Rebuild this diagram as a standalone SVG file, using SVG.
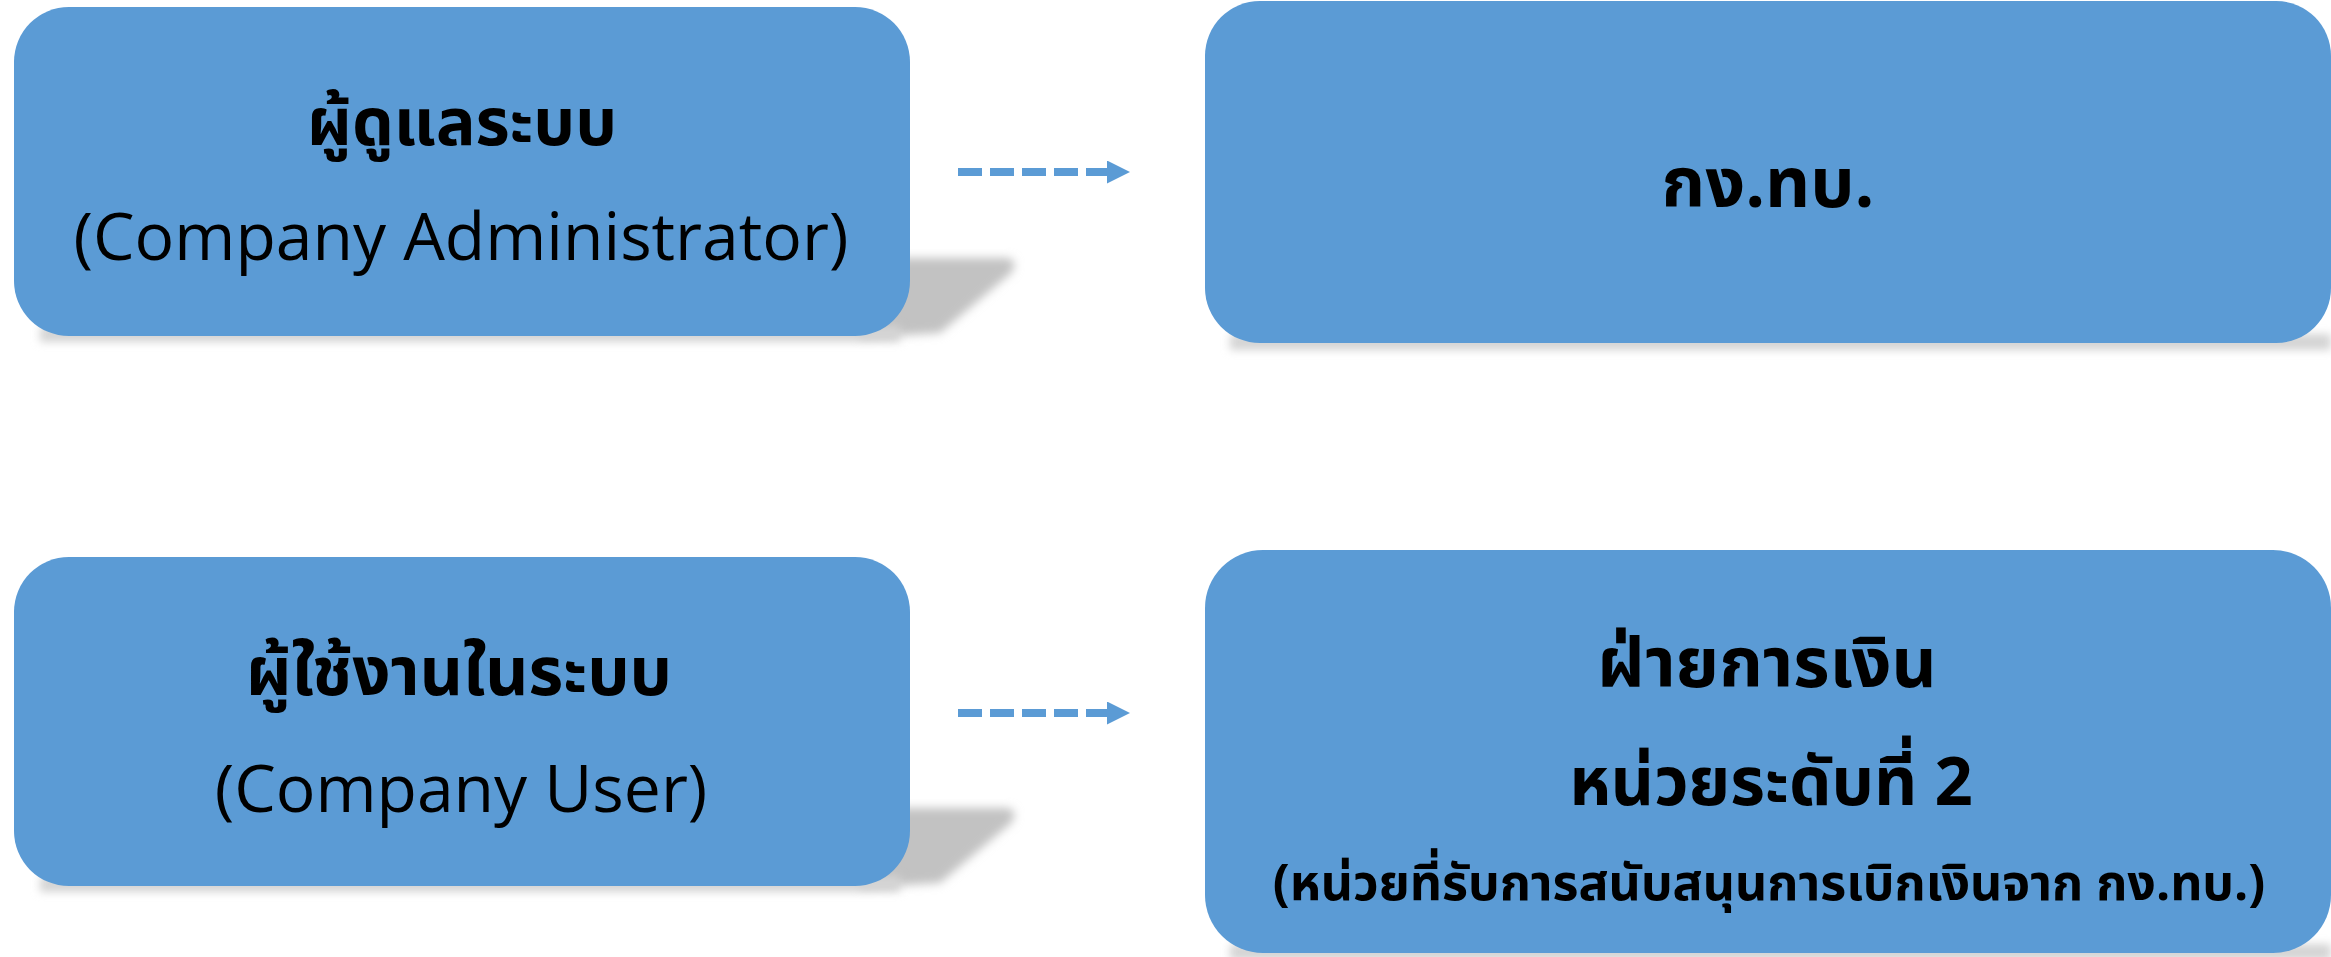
<svg xmlns="http://www.w3.org/2000/svg" width="2331" height="957" viewBox="0 0 2331 957">
<style>
.box{fill:#5B9BD5}
.th{font-family:"Noto Sans Thai","Noto Sans Thai Looped","Tahoma","Loma","Garuda","Noto Sans",sans-serif;font-weight:bold;fill:#000;text-anchor:middle}
.en{font-family:"Open Sans","Noto Sans",sans-serif;font-weight:500;fill:#000;text-anchor:middle}
.sh{fill:#c2c2c2;filter:url(#blur)}
.shb{fill:#d4d4d4;filter:url(#blur2)}
.conn{stroke:#5B9BD5;stroke-width:8;stroke-dasharray:24 8;fill:none}
</style>
<defs>
<filter id="blur" x="-20%" y="-50%" width="140%" height="200%"><feGaussianBlur stdDeviation="5"/></filter>
<filter id="blur2" x="-20%" y="-100%" width="140%" height="300%"><feGaussianBlur stdDeviation="4"/></filter>
<marker id="arr" markerWidth="23" markerHeight="23" refX="0" refY="11.5" markerUnits="userSpaceOnUse" orient="auto"><path d="M0,0 L23,11.5 L0,23 Z" fill="#5B9BD5"/></marker>
</defs>
<rect width="2331" height="957" fill="#fff"/>
<g id="shadows">
<path class="sh" d="M860,258 L1008,258 Q1020,262 1010,274 L940,333 L860,338 Z"/>
<path class="sh" d="M860,808 L1008,808 Q1020,812 1010,824 L940,883 L860,888 Z"/>
<rect class="shb" x="40" y="326" width="860" height="16"/>
<rect class="shb" x="40" y="876" width="860" height="16"/>
<rect class="shb" x="1230" y="334" width="1101" height="16"/>
<rect class="shb" x="1230" y="944" width="1101" height="16"/>
</g>
<g id="connectors">
<line class="conn" x1="958" y1="172" x2="1107" y2="172" marker-end="url(#arr)"/>
<line class="conn" x1="958" y1="713" x2="1107" y2="713" marker-end="url(#arr)"/>
</g>
<g id="node-admin">
<rect class="box" x="14" y="7" width="896" height="329" rx="55"/>
<text class="th" x="462" y="145" font-size="66">ผู้ดูแลระบบ</text>
<text class="en" x="461" y="260" font-size="66">(Company Administrator)</text>
</g>
<g id="node-kongthob">
<rect class="box" x="1205" y="1" width="1126" height="342" rx="55"/>
<text class="th" x="1768" y="207" font-size="70">กง.ทบ.</text>
</g>
<g id="node-user">
<rect class="box" x="14" y="557" width="896" height="329" rx="55"/>
<text class="th" x="459" y="695" font-size="67">ผู้ใช้งานในระบบ</text>
<text class="en" x="461" y="812" font-size="66">(Company User)</text>
</g>
<g id="node-finance">
<rect class="box" x="1205" y="550" width="1126" height="403" rx="58"/>
<text class="th" x="1767" y="687" font-size="70">ฝ่ายการเงิน</text>
<text class="th" x="1771" y="805" font-size="67">หน่วยระดับที่ 2</text>
<text class="th" x="1769" y="900" font-size="50">(หน่วยที่รับการสนับสนุนการเบิกเงินจาก กง.ทบ.)</text>
</g>
</svg>
